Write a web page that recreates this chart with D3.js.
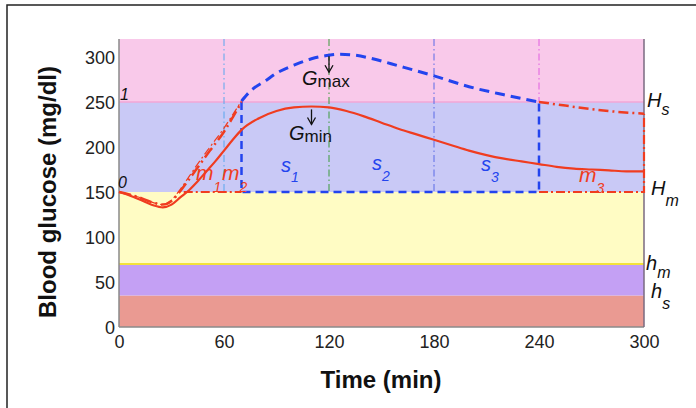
<!DOCTYPE html>
<html lang="en">
<head>
<meta charset="UTF-8">
<title>Blood glucose</title>
<script src="https://d3js.org/d3.v7.min.js"></script>
<style>
  body { margin: 0; background: #fff; }
  text { font-family: 'Liberation Sans', Arial, sans-serif; }
  .tick-label { font-size: 18px; fill: #222; }
  .axis-title { font-size: 24px; font-weight: bold; fill: #111; }
  .it { font-style: italic; }
</style>
</head>
<body>
<div id="chart"></div>
<script>
// glucose bands (mg/dl), bottom to top
const bandEdges = [0, 35, 70, 150, 250, 320];
const bandColors = ["#ea9a92", "#c4a0f4", "#fffcc4", "#c9c9f6", "#f9c9ea"];

const xTicks = [0, 60, 120, 180, 240, 300];
const yTicks = [0, 50, 100, 150, 200, 250, 300];

// measured glucose (solid red)
const tGlucose = [0, 5, 10, 15, 20, 25, 30, 35, 40, 45, 50, 55, 60, 65, 70, 80, 90, 100, 110, 120, 130, 140, 150, 160, 170, 180, 190, 200, 210, 220, 230, 240, 250, 260, 270, 280, 290, 300];
const vGlucose = [150, 147, 143, 139, 135, 133, 136, 144, 152, 162, 173, 184, 196, 208, 219, 232, 240, 244, 245, 244, 240, 234, 227, 220, 214, 208, 202, 196, 191, 187, 184, 181, 178, 176, 175, 174, 173, 173];

// rising predicted traces (red dash-dot)
const tRiseA = [0, 10, 20, 25, 30, 35, 40, 46, 52, 60, 65, 70];
const vRiseA = [150, 145, 138, 136, 140, 151, 164, 180, 196, 217, 233, 250];
const tRiseB = [0, 10, 20, 25, 30, 35, 40, 46, 52, 60, 66, 70];
const vRiseB = [150, 145, 138, 136, 141, 153, 167, 184, 200, 221, 239, 251];

// upper envelope (blue dashed)
const tUpper = [70, 75, 84, 90, 100, 110, 120, 126, 135, 145, 160, 180, 200, 220, 240];
const vUpper = [251, 262, 274, 282, 291, 298, 302, 303, 302, 298, 290, 279, 267, 258, 250];

// tail after 240 (red dash-dot)
const tTail = [240, 255, 270, 285, 300];
const vTail = [250, 246, 242, 239, 237];

// vertical guides
const guideT = [60, 120, 180, 240];
const guideBottom = [150, 150, 150, 250];
const guideColors = ["#58a6ee", "#3a9a3a", "#5a6ae6", "#e05ee0"];

const W = 696, H = 408;
const x = d3.scaleLinear().domain([0, 300]).range([119, 644]);
const y = d3.scaleLinear().domain([0, 320]).range([327, 39]);

const svg = d3.select("#chart").append("svg")
  .attr("width", W).attr("height", H);

// outer frame
svg.append("rect").attr("x", 7).attr("y", 5).attr("width", 720).attr("height", 420)
  .attr("fill", "none").attr("stroke", "#222").attr("stroke-width", 1.5);

// bands
svg.selectAll(".band").data(bandColors).enter().append("rect")
  .attr("x", x(0)).attr("width", x(300) - x(0))
  .attr("y", (d, i) => y(bandEdges[i + 1]))
  .attr("height", (d, i) => y(bandEdges[i]) - y(bandEdges[i + 1]))
  .attr("fill", d => d);

svg.append("line").attr("x1", x(0)).attr("x2", x(300)).attr("y1", y(250)).attr("y2", y(250))
  .attr("stroke", "#f2a6d6").attr("stroke-width", 1.5);
svg.append("line").attr("x1", x(0)).attr("x2", x(300)).attr("y1", y(70)).attr("y2", y(70))
  .attr("stroke", "#f3e23a").attr("stroke-width", 2);

// axes frame lines
const frame = svg.append("g").attr("stroke", "#8a8a8a").attr("stroke-width", 1.5);
frame.append("line").attr("x1", x(0)).attr("x2", x(0)).attr("y1", y(320)).attr("y2", y(0));
frame.append("line").attr("x1", x(0)).attr("x2", x(300)).attr("y1", y(0)).attr("y2", y(0));
frame.append("line").attr("x1", x(300)).attr("x2", x(300)).attr("y1", y(320)).attr("y2", y(0))
  .attr("stroke", "#7a6a80");

// ticks via axes (no tick marks)
const xAxis = svg.append("g").attr("transform", `translate(0,${y(0)})`)
  .call(d3.axisBottom(x).tickValues(xTicks).tickSize(0).tickPadding(5));
const yAxis = svg.append("g").attr("transform", `translate(${x(0)},0)`)
  .call(d3.axisLeft(y).tickValues(yTicks).tickSize(0).tickPadding(4));
[xAxis, yAxis].forEach(g => {
  g.select(".domain").remove();
  g.selectAll("text").attr("class", "tick-label").attr("font-family", null).attr("font-size", null);
});
xAxis.selectAll("text").attr("dy", "0.9em");
yAxis.selectAll("text").attr("dy", "0.36em");

// guides
svg.selectAll(".guide").data(guideT).enter().append("line")
  .attr("x1", d => x(d)).attr("x2", d => x(d))
  .attr("y1", y(320)).attr("y2", (d, i) => y(guideBottom[i]))
  .attr("stroke", (d, i) => guideColors[i]).attr("stroke-width", 1)
  .attr("stroke-dasharray", "7,3,1.5,3");

const line = d3.line().x(d => x(d[0])).y(d => y(d[1])).curve(d3.curveMonotoneX);
const zip = (a, b) => a.map((t, i) => [t, b[i]]);

const red = "#f03c20", blue = "#2344ee";

// blue dashed box and envelope
svg.append("path").datum([[70, 250], [70, 150], [240, 150], [240, 250]])
  .attr("d", d3.line().x(d => x(d[0])).y(d => y(d[1])))
  .attr("fill", "none").attr("stroke", blue).attr("stroke-width", 2.5).attr("stroke-dasharray", "8,5");
svg.append("path").datum(zip(tUpper, vUpper)).attr("d", line)
  .attr("fill", "none").attr("stroke", blue).attr("stroke-width", 3).attr("stroke-dasharray", "10,6");

// red dash-dot pieces
svg.append("path").datum([[37, 150], [70, 150]])
  .attr("d", d3.line().x(d => x(d[0])).y(d => y(d[1])))
  .attr("fill", "none").attr("stroke", red).attr("stroke-width", 2.2).attr("stroke-dasharray", "9,3,2,3");
svg.append("path").datum([[240, 150], [300, 150], [300, 237]])
  .attr("d", d3.line().x(d => x(d[0])).y(d => y(d[1])))
  .attr("fill", "none").attr("stroke", red).attr("stroke-width", 2.2).attr("stroke-dasharray", "9,3,2,3");
svg.append("path").datum(zip(tTail, vTail)).attr("d", line)
  .attr("fill", "none").attr("stroke", red).attr("stroke-width", 2.5).attr("stroke-dasharray", "10,4,2,4");
svg.append("path").datum(zip(tRiseB, vRiseB)).attr("d", line)
  .attr("fill", "none").attr("stroke", red).attr("stroke-width", 1.2).attr("stroke-dasharray", "8,3,2,3");
svg.append("path").datum(zip(tRiseA, vRiseA)).attr("d", line)
  .attr("fill", "none").attr("stroke", red).attr("stroke-width", 2.5).attr("stroke-dasharray", "12,4,2,4");

// measured glucose
svg.append("path").datum(zip(tGlucose, vGlucose)).attr("d", line)
  .attr("fill", "none").attr("stroke", red).attr("stroke-width", 2.2);

// arrows
const arrows = [[120, 303, 283], [110, 244, 225]];
arrows.forEach(a => {
  const ax = x(a[0]), y1 = y(a[1]) + 2, y2 = y(a[2]);
  svg.append("line").attr("x1", ax).attr("x2", ax).attr("y1", y1).attr("y2", y2)
    .attr("stroke", "#111").attr("stroke-width", 1.3);
  svg.append("path").attr("d", `M${ax - 4},${y2 - 7} L${ax},${y2} L${ax + 4},${y2 - 7}`)
    .attr("fill", "none").attr("stroke", "#111").attr("stroke-width", 1.3);
});

// labels with subscripts
function label(main, sub, px, py, color, ms, ss, dy, subItalic) {
  const t = svg.append("text").attr("x", px).attr("y", py).attr("fill", color);
  t.append("tspan").attr("class", "it").attr("font-size", ms).text(main);
  t.append("tspan").attr("class", subItalic ? "it" : null).attr("font-size", ss).attr("dy", dy).text(sub);
}
label("G", "max", 302, 85, "#111", 20, 17, 2, false);
label("G", "min", 289, 140, "#111", 20, 17, 2, false);
label("s", "1", 281, 172, blue, 20, 14, 10, true);
label("s", "2", 372, 170, blue, 20, 14, 11, true);
label("s", "3", 481, 171, blue, 20, 14, 11, true);
label("m", "1", 196, 180, red, 21, 14, 12, true);
label("m", "2", 222, 180, red, 21, 14, 12, true);
label("m", "3", 579, 182, red, 21, 14, 11, true);
label("H", "s", 647, 107, "#111", 20, 16, 8, true);
label("H", "m", 651, 195, "#111", 20, 16, 11, true);
label("h", "m", 646, 270, "#111", 20, 16, 8, true);
label("h", "s", 651, 298, "#111", 20, 16, 11, true);

svg.append("text").attr("class", "it").attr("x", 120).attr("y", 100).attr("font-size", 16).attr("fill", "#111").text("1");
svg.append("text").attr("class", "it").attr("x", 118).attr("y", 188).attr("font-size", 16).attr("fill", "#111").text("0");

// axis titles
svg.append("text").attr("class", "axis-title").attr("text-anchor", "middle")
  .attr("x", 381).attr("y", 388).text("Time (min)");
svg.append("text").attr("class", "axis-title").attr("text-anchor", "middle").attr("font-size", 25)
  .attr("transform", "translate(56,192) rotate(-90)").text("Blood glucose (mg/dl)");
</script>
</body>
</html>
